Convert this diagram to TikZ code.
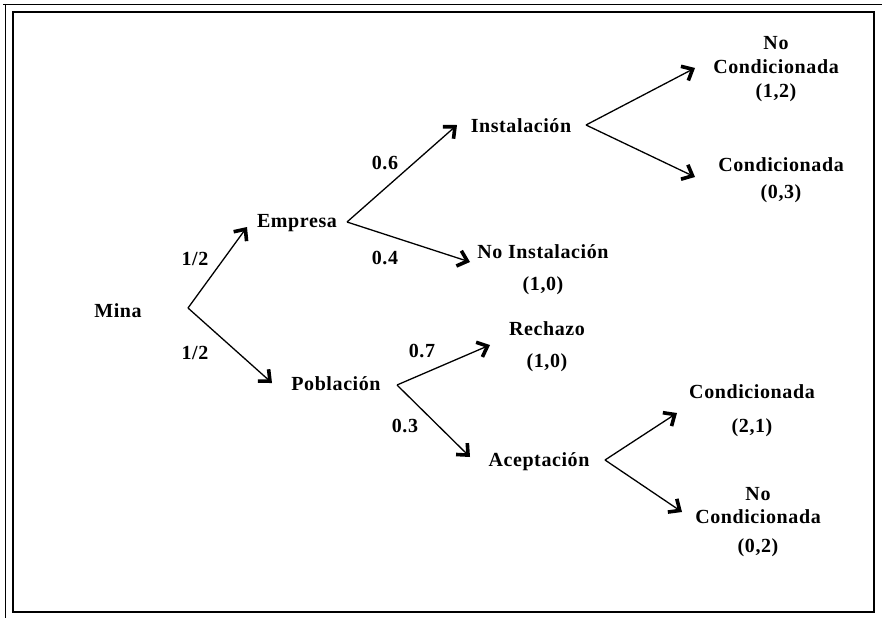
\documentclass[tikz,border=0pt]{standalone}
\usepackage{fontspec}
\setmainfont{Liberation Serif}[LetterSpace=3]
\usetikzlibrary{arrows.meta}
\begin{document}
\begin{tikzpicture}[x=1pt,y=-1pt,
  lbl/.style={font=\bfseries\fontsize{20}{24}\selectfont, inner sep=0pt, align=center},
  br/.style={line width=1.3pt, -{Straight Barb[length=9pt,width=16pt,line width=3.6pt]}},
  frame/.style={line width=1.4pt}]
\useasboundingbox (0,0) rectangle (882,618);
% frames
\draw[line width=0.9pt] (3,4) -- (882,4);
\draw[line width=0.9pt] (5,4) -- (5,618);
\draw[frame] (13,12) rectangle (874,612);
% nodes
\node[lbl] (mina) at (118,311) {Mina};
\node[lbl] (emp) at (297,223) {Empresa};
\node[lbl] (pob) at (336,384) {Población};
\node[lbl] (ins) at (521,126) {Instalación};
\node[lbl] (noins) at (543,270) {No Instalación\\[8pt](1,0)};
\node[lbl] (rech) at (547,347) {Rechazo\\[8pt](1,0)};
\node[lbl] (acep) at (539,462) {Aceptación};
\node[lbl] (nc1) at (776,69) {No\\Condicionada\\(1,2)};
\node[lbl] (c1) at (781,180) {Condicionada\\[3pt](0,3)};
\node[lbl] (c2) at (752,411) {Condicionada\\[10pt](2,1)};
\node[lbl] (nc2) at (758,522) {No\\[-1pt]Condicionada\\[5pt](0,2)};
% probability labels
\node[lbl] (p1) at (195,259) {1/2};
\node[lbl] (p2) at (195,353) {1/2};
\node[lbl] (p3) at (385,163) {0.6};
\node[lbl] (p4) at (385,258) {0.4};
\node[lbl] (p5) at (422,351) {0.7};
\node[lbl] (p6) at (405,426) {0.3};
% branch points and tips
\coordinate (vm) at (188,308);
\coordinate (ve) at (347,222);
\coordinate (vi) at (586,125);
\coordinate (vp) at (397,385);
\coordinate (va) at (605,460);
\coordinate (te) at (247,227);
\coordinate (tp) at (272,383);
\coordinate (ti) at (457,125);
\coordinate (tn) at (470,262);
\coordinate (tnc1) at (695,68);
\coordinate (tc1) at (695,177);
\coordinate (tr) at (490,345);
\coordinate (ta) at (470,457);
\coordinate (tc2) at (677,413);
\coordinate (tnc2) at (682,512);
% connectors
\draw[br] (vm) -- (te);
\draw[br] (vm) -- (tp);
\draw[br] (ve) -- (ti);
\draw[br] (ve) -- (tn);
\draw[br] (vi) -- (tnc1);
\draw[br] (vi) -- (tc1);
\draw[br] (vp) -- (tr);
\draw[br] (vp) -- (ta);
\draw[br] (va) -- (tc2);
\draw[br] (va) -- (tnc2);
\end{tikzpicture}
\end{document}
